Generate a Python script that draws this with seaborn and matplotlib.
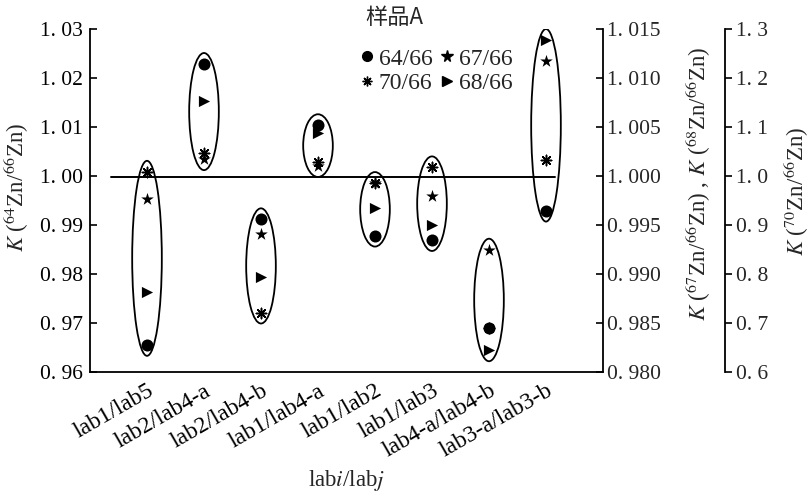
import numpy as np
import pandas as pd
import matplotlib
matplotlib.use("Agg")
import matplotlib.pyplot as plt
import seaborn as sns
from matplotlib.patches import Ellipse
from matplotlib.lines import Line2D

# ---------------- data ----------------
categories = ["lab1/lab5", "lab2/lab4-a", "lab2/lab4-b", "lab1/lab4-a",
              "lab1/lab2", "lab1/lab3", "lab4-a/lab4-b", "lab3-a/lab3-b"]
k64 = [0.9655, 1.0229, 0.9912, 1.0104, 0.9878, 0.9869, 0.9689, 0.9929]
k67 = [0.9977, 1.0017, 0.9941, 1.0010, 0.9993, 0.9980, 0.9925, 1.0117]
k68 = [0.9882, 1.0077, 0.9897, 1.0044, 0.9967, 0.9950, 0.9822, 1.0139]
k70 = [1.009, 1.046, 0.721, 1.029, 0.986, 1.018, 0.689, 1.033]
left_ticks = [0.96, 0.97, 0.98, 0.99, 1.00, 1.01, 1.02, 1.03]
left_labels = ["0. 96", "0. 97", "0. 98", "0. 99", "1. 00", "1. 01", "1. 02", "1. 03"]
mid_ticks = [0.980, 0.985, 0.990, 0.995, 1.000, 1.005, 1.010, 1.015]
mid_labels = ["0. 980", "0. 985", "0. 990", "0. 995", "1. 000", "1. 005", "1. 010", "1. 015"]
far_ticks = [0.6, 0.7, 0.8, 0.9, 1.0, 1.1, 1.2, 1.3]
far_labels = ["0. 6", "0. 7", "0. 8", "0. 9", "1. 0", "1. 1", "1. 2", "1. 3"]
ref_level = 0.9998
legend_title = "样品A"
series_labels = ["64/66", "67/66", "70/66", "68/66"]

df = pd.DataFrame({"pos": np.arange(len(categories)), "cat": categories,
                   "k64": k64, "k67": k67, "k68": k68, "k70": k70})

# ---------------- style ----------------
sns.set_theme(style="white")
plt.rcParams["font.family"] = ["Liberation Serif", "Noto Sans CJK SC"]
plt.rcParams["mathtext.fontset"] = "stix"
FS = 15.5
XFS = 17
LFS = 16.5

W, H = 811, 496
X0, X1, Y0, Y1 = 90, 603, 372, 29   # axes box in pixels
fig = plt.figure(figsize=(W / 100, H / 100), dpi=100)
ax = fig.add_axes([X0 / W, 1 - Y0 / H, (X1 - X0) / W, (Y0 - Y1) / H])
ax2 = ax.twinx()
ax3 = ax.twinx()

def ax_x(px):
    return (px - X0) / (X1 - X0)

def ax_y(py):
    return (Y0 - py) / (Y0 - Y1)

xlim = (-1, len(categories))
for a in (ax, ax2, ax3):
    a.set_xlim(*xlim)
    a.set_facecolor("none")
    a.grid(False)

ax.set_ylim(left_ticks[0], left_ticks[-1])
ax2.set_ylim(mid_ticks[0], mid_ticks[-1])
ax3.set_ylim(far_ticks[0], far_ticks[-1])

# spines
for a in (ax, ax2, ax3):
    for s in a.spines.values():
        s.set_color("black")
        s.set_linewidth(1.3)
ax.spines["top"].set_visible(False)
ax.spines["right"].set_visible(False)
for a in (ax2, ax3):
    a.spines["top"].set_visible(False)
    a.spines["left"].set_visible(False)
    a.spines["bottom"].set_visible(False)
ax3.spines["right"].set_position(("axes", ax_x(725)))

# reference line
ax.axhline(ref_level, xmin=ax_x(111), xmax=ax_x(555), color="black", lw=1.4, zorder=1)

# ellipses (computed from each group's values, in left-axis units)
def to_left_mid(v):
    return left_ticks[0] + (v - mid_ticks[0]) * (left_ticks[-1] - left_ticks[0]) / (mid_ticks[-1] - mid_ticks[0])

def to_left_far(v):
    return left_ticks[0] + (v - far_ticks[0]) * (left_ticks[-1] - left_ticks[0]) / (far_ticks[-1] - far_ticks[0])

pad = 0.0022
for i in range(len(categories)):
    vals = [k64[i], to_left_mid(k67[i]), to_left_mid(k68[i]), to_left_far(k70[i])]
    lo, hi = min(vals), max(vals)
    e = Ellipse((i, (lo + hi) / 2), width=0.52, height=(hi - lo) + 2 * pad,
                fill=False, edgecolor="black", lw=1.3, zorder=2)
    ax.add_patch(e)

# markers
sns.scatterplot(data=df, x="pos", y="k64", marker="o", s=75, color="black",
                edgecolor="black", linewidth=0, ax=ax, zorder=3, legend=False)
sns.scatterplot(data=df, x="pos", y="k67", marker="*", s=90, color="black",
                edgecolor="black", linewidth=0, ax=ax2, zorder=3, legend=False)
sns.scatterplot(data=df, x="pos", y="k68", marker=">", s=65, color="black",
                edgecolor="black", linewidth=0, ax=ax2, zorder=3, legend=False)
sns.scatterplot(data=df, x="pos", y="k70", marker=(8, 2, 0), s=55, color="black",
                edgecolor="black", linewidth=1.1, ax=ax3, zorder=3, legend=False)

# ticks
ax.set_xticks(df["pos"])
ax.set_xticklabels(categories, rotation=30, ha="right", rotation_mode="anchor", fontsize=XFS)
ax.set_yticks(left_ticks)
ax.set_yticklabels(left_labels, fontsize=FS)
ax.tick_params(axis="both", direction="in", length=5, width=1.2, color="black", labelcolor="black")
ax.tick_params(axis="x", pad=6)
ax.tick_params(axis="y", pad=5)
ax2.set_yticks(mid_ticks)
ax2.set_yticklabels(mid_labels, fontsize=FS)
ax2.tick_params(axis="y", direction="in", length=5, width=1.2, color="black", pad=3)
ax3.set_yticks(far_ticks)
ax3.set_yticklabels(far_labels, fontsize=FS)
ax3.tick_params(axis="y", direction="out", length=5, width=1.2, color="black", pad=3)

ax.set_xlabel(r"lab$\mathit{i}$/lab$\mathit{j}$", fontsize=LFS)
ax.xaxis.set_label_coords(ax_x(346), ax_y(468))
ax.set_ylabel(r"$K$ (${}^{64}$Zn/${}^{66}$Zn)", fontsize=LFS)
ax.yaxis.set_label_coords(ax_x(31), ax_y(187))
ax2.set_ylabel(r"$K$ (${}^{67}$Zn/${}^{66}$Zn) , $K$ (${}^{68}$Zn/${}^{66}$Zn)", fontsize=LFS)
ax2.yaxis.set_label_coords(ax_x(683), ax_y(184))
ax3.set_ylabel(r"$K$ (${}^{70}$Zn/${}^{66}$Zn)", fontsize=LFS)
ax3.yaxis.set_label_coords(ax_x(781), ax_y(191))

# legend
h_circ = Line2D([], [], ls="none", marker="o", ms=7, color="black")
h_star = Line2D([], [], ls="none", marker="*", ms=8.5, color="black")
h_ast = Line2D([], [], ls="none", marker=(8, 2, 0), ms=7, color="black", mew=1.0)
h_tri = Line2D([], [], ls="none", marker=">", ms=7, color="black")
leg = ax.legend([h_circ, h_ast, h_star, h_tri],
                [series_labels[0], series_labels[2], series_labels[1], series_labels[3]],
                ncol=2, frameon=False, fontsize=17, handlelength=0.6, handletextpad=0.2,
                columnspacing=0.3, labelspacing=0.12, borderpad=0, borderaxespad=0,
                loc="upper left", bbox_to_anchor=(ax_x(360), ax_y(48)))
fig.text(394 / W, 1 - 18 / H, legend_title, ha="center", va="center", fontsize=16,
         family=["Noto Sans CJK SC", "Liberation Serif"])

fig.savefig("out.png", dpi=100)
